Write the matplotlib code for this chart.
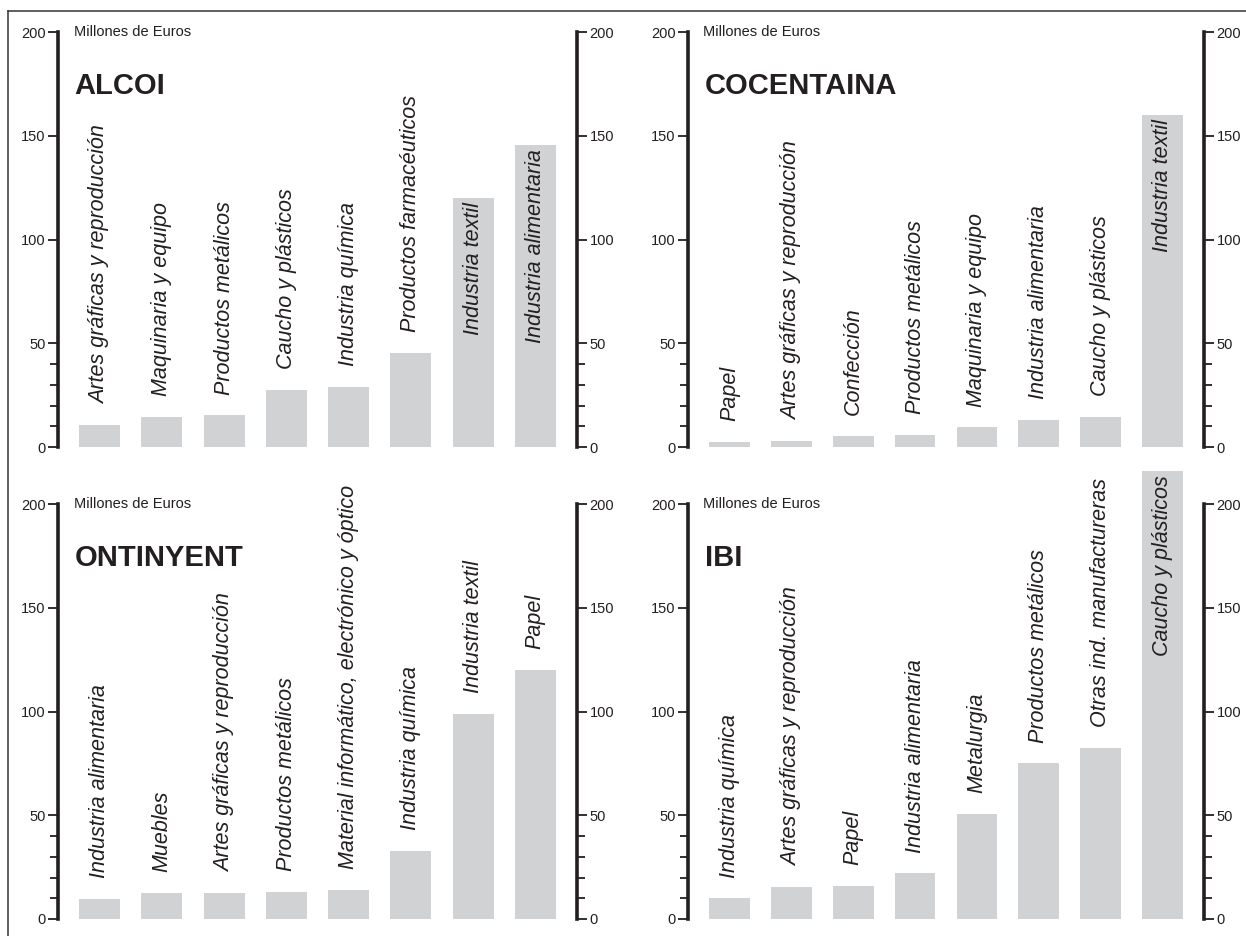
import matplotlib
matplotlib.use("Agg")
import matplotlib.pyplot as plt
from matplotlib.lines import Line2D
from matplotlib.ticker import MultipleLocator, FixedLocator

plt.rcParams['font.family'] = ['Liberation Sans', 'DejaVu Sans']

# datos (millones de euros)
alcoi_sectores = ["Artes gráficas y reproducción", "Maquinaria y equipo", "Productos metálicos",
                  "Caucho y plásticos", "Industria química", "Productos farmacéuticos",
                  "Industria textil", "Industria alimentaria"]
alcoi_valores = [10.5, 14.5, 15.2, 27.5, 29, 45.3, 120, 145.5]

cocentaina_sectores = ["Papel", "Artes gráficas y reproducción", "Confección", "Productos metálicos",
                       "Maquinaria y equipo", "Industria alimentaria", "Caucho y plásticos",
                       "Industria textil"]
cocentaina_valores = [2.5, 3, 5.5, 6, 9.5, 13, 14.5, 160]

ontinyent_sectores = ["Industria alimentaria", "Muebles", "Artes gráficas y reproducción",
                      "Productos metálicos", "Material informático, electrónico y óptico",
                      "Industria química", "Industria textil", "Papel"]
ontinyent_valores = [9.6, 12.5, 12.5, 13, 14, 33, 99, 120]

ibi_sectores = ["Industria química", "Artes gráficas y reproducción", "Papel", "Industria alimentaria",
                "Metalurgia", "Productos metálicos", "Otras ind. manufactureras", "Caucho y plásticos"]
ibi_valores = [10, 15.4, 16, 22, 50.6, 75, 82.5, 216]

BAR = '#d1d2d4'
INK = '#231f20'
W, H = 1246, 936

fig = plt.figure(figsize=(W / 100, H / 100), dpi=100)

# left, right, top, bottom in pixels
paneles = [
    ("ALCOI", alcoi_sectores, alcoi_valores, (58, 577, 32, 447)),
    ("COCENTAINA", cocentaina_sectores, cocentaina_valores, (688, 1204, 32, 447)),
    ("ONTINYENT", ontinyent_sectores, ontinyent_valores, (58, 577, 504, 919)),
    ("IBI", ibi_sectores, ibi_valores, (688, 1204, 504, 919)),
]

axes = []
for nombre, sectores, valores, (l, r, t, b) in paneles:
    ax = fig.add_axes([l / W, 1 - b / H, (r - l) / W, (b - t) / H])
    n = len(valores)
    x = list(range(n))
    ax.bar(x, valores, width=0.66, color=BAR, clip_on=False, zorder=1)
    ax.set_xlim(-0.67, n - 0.33)
    ax.set_ylim(0, 200)

    ax.yaxis.set_major_locator(MultipleLocator(50))
    ax.yaxis.set_minor_locator(FixedLocator([10, 20, 30, 40]))
    ax.tick_params(axis='y', which='both', left=True, right=True, labelleft=True,
                   labelright=True, direction='out', width=1.3, colors=INK,
                   labelsize=10.5, pad=2)
    ax.tick_params(axis='y', which='major', length=7)
    ax.tick_params(axis='y', which='minor', length=6)
    ax.set_xticks([])
    for s in ('top', 'bottom'):
        ax.spines[s].set_visible(False)
    for s in ('left', 'right'):
        ax.spines[s].set_linewidth(2.6)
        ax.spines[s].set_color(INK)
    ax.patch.set_alpha(0)

    ax.text(0.03, 200, "Millones de Euros", transform=ax.get_yaxis_transform(),
            va='center', ha='left', fontsize=10.5, color=INK)
    ax.text(0.032, 170, nombre, transform=ax.get_yaxis_transform(),
            va='baseline', ha='left', fontsize=21, fontweight='bold', color=INK)

    textos = []
    for xi, v, s in zip(x, valores, sectores):
        tx = ax.text(xi, v + 10, s, rotation=90, ha='center', va='bottom',
                     fontsize=15.5, style='italic', color=INK, zorder=3)
        textos.append((tx, v))
    axes.append((ax, textos))

# etiquetas dentro de la barra cuando no caben encima
fig.canvas.draw()
renderer = fig.canvas.get_renderer()
for ax, textos in axes:
    inv = ax.transData.inverted()
    for tx, v in textos:
        bb = tx.get_window_extent(renderer)
        y0 = inv.transform((bb.x0, bb.y0))[1]
        y1 = inv.transform((bb.x0, bb.y1))[1]
        largo = y1 - y0
        if y1 > 190 and largo + 4 < v:
            tx.set_y(v - 2)
            tx.set_va('top')

# marco exterior
fig.add_artist(Line2D([8 / W, 8 / W], [0, 1 - 11 / H], transform=fig.transFigure,
                      color='#333333', lw=1.1))
fig.add_artist(Line2D([8 / W, 1], [1 - 11 / H, 1 - 11 / H], transform=fig.transFigure,
                      color='#333333', lw=1.1))

fig.savefig("out.png", dpi=100)
